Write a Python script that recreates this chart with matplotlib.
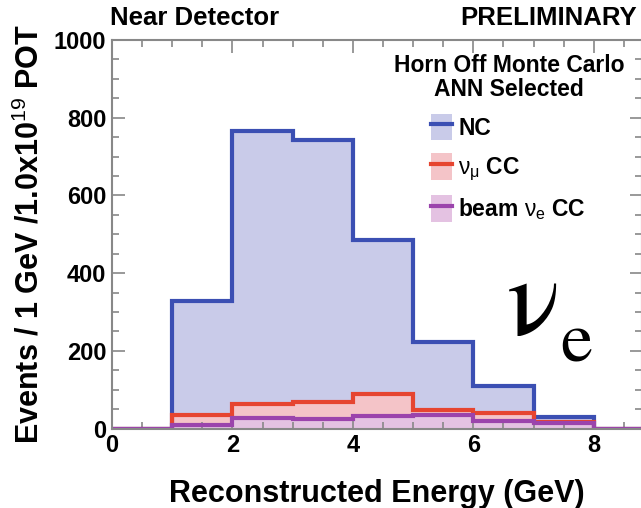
import matplotlib
matplotlib.use('Agg')
from matplotlib import pyplot as plt
from matplotlib.patches import Patch
from matplotlib.lines import Line2D
from matplotlib.ticker import MultipleLocator
import numpy as np

# bin edges in GeV and events per bin
edges = [0, 1, 2, 3, 4, 5, 6, 7, 8, 9]
nc = [0, 328, 765, 742, 485, 222, 109, 30, 0]
numu_cc = [0, 35, 63, 69, 89, 47, 39, 18, 0]
beam_nue_cc = [0, 9, 26, 24, 32, 36, 20, 14, 0]

labels = ['NC', r'$\nu_{\mu}$ CC', r'beam $\nu_{e}$ CC']

plt.rcParams['font.family'] = ['Liberation Sans', 'DejaVu Sans']
plt.rcParams['mathtext.fontset'] = 'custom'
plt.rcParams['mathtext.rm'] = 'Liberation Sans'
plt.rcParams['mathtext.it'] = 'Liberation Sans'

W, H = 641, 508
fig = plt.figure(figsize=(W/100, H/100), dpi=100)
ax = fig.add_axes([112/W, 79.5/H, 530/W, 388.5/H])

line_cols = ['#3b4fb3', '#e64530', '#9b44ac']
fill_cols = ['#c9cbe9', '#f4c4c8', '#e4c2e2']
series = [nc, numu_cc, beam_nue_cc]

for vals, fc in zip(series, fill_cols):
    ax.stairs(vals, edges, fill=True, color=fc, zorder=1)
for vals, lc in zip(series, line_cols):
    ax.stairs(vals, edges, baseline=0, color=lc, lw=3, zorder=2)

ax.set_xlim(0, 8.8)
ax.set_ylim(0, 1000)
ax.xaxis.set_major_locator(MultipleLocator(2))
ax.xaxis.set_minor_locator(MultipleLocator(0.5))
ax.yaxis.set_major_locator(MultipleLocator(200))
ax.yaxis.set_minor_locator(MultipleLocator(50))
ax.tick_params(which='both', direction='in', top=True, right=True,
               color='#888888', width=1.2, labelsize=17)
ax.tick_params(which='major', length=9, pad=4)
ax.tick_params(which='minor', length=5)
for lab in ax.get_xticklabels() + ax.get_yticklabels():
    lab.set_fontweight('bold')
for sp in ax.spines.values():
    sp.set_color('#888888')
    sp.set_linewidth(1.5)

ax.set_xlabel('Reconstructed Energy (GeV)', fontsize=22, fontweight='bold', labelpad=16)
ax.set_ylabel(r'Events / 1 GeV /1.0x10$^{19}$ POT', fontsize=22, fontweight='bold', labelpad=6)

fig.text(110/W, 1 - 18/H, 'Near Detector', fontsize=18.5, fontweight='bold', va='center', ha='left')
fig.text(637/W, 1 - 18/H, 'PRELIMINARY', fontsize=18.5, fontweight='bold', va='center', ha='right')

# legend header, centred over the entries
fig.text(509/W, 1 - 66/H, 'Horn Off Monte Carlo', fontsize=16.5, fontweight='bold', ha='center', va='center')
fig.text(509/W, 1 - 90/H, 'ANN Selected', fontsize=16.5, fontweight='bold', ha='center', va='center')

handles = [(Patch(facecolor=fc, edgecolor='none'), Line2D([], [], color=lc, lw=3))
           for fc, lc in zip(fill_cols, line_cols)]
leg = fig.legend(handles, labels, loc='upper left', bbox_to_anchor=(431/W, 1 - 114/H),
                 frameon=False, fontsize=16.5, handlelength=0.9, handleheight=1.4,
                 handletextpad=0.3, labelspacing=0.55, borderpad=0, borderaxespad=0)
for t in leg.get_texts():
    t.set_fontweight('bold')

fig.text(507/W, 1 - 335/H, 'ν', fontsize=80, family='STIXGeneral', ha='left', va='baseline')
fig.text(560/W, 1 - 362/H, 'e', fontsize=52, family='STIXGeneral', ha='left', va='baseline')

fig.savefig('out.png', dpi=100)
